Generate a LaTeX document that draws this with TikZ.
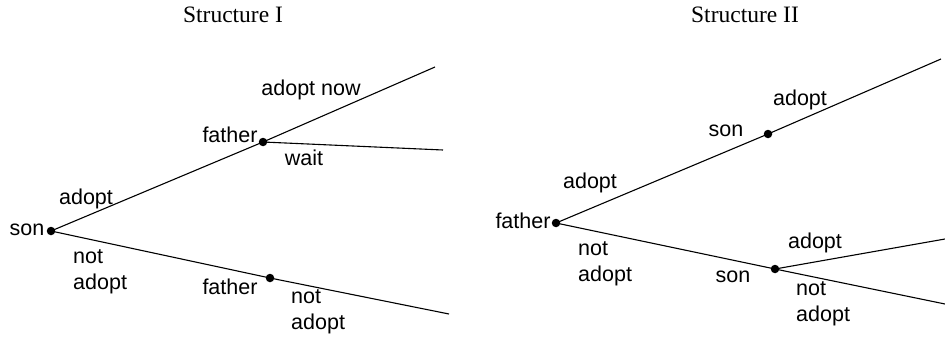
\documentclass[tikz,border=0pt]{standalone}
\usepackage{fontspec}
\setmainfont{Liberation Sans}
\newfontfamily\titlefont{Liberation Serif}
\begin{document}
\begin{tikzpicture}[x=1pt,y=-1pt,
  dot/.style={circle,fill=black,inner sep=0pt,minimum size=8.5pt},
  lbl/.style={font=\fontsize{21.5}{26}\selectfont,inner sep=0pt,align=left},
  ttl/.style={font=\titlefont\fontsize{23.5}{28}\selectfont,inner sep=0pt},
  branch/.style={line width=1.1pt}]
\useasboundingbox (0,0) rectangle (945,337);

% ---- Structure I: son moves first ----
\node[ttl] (t1) at (233,15) {Structure I};
\node[dot] (s) at (51,231) {};
\node[dot] (fa) at (263,142) {};
\node[dot] (fb) at (270,278) {};
\coordinate (e1) at (435,67);
\coordinate (e2) at (443,150);
\coordinate (e3) at (449,314);
\draw[branch] (s.center) -- (fa.center) -- (e1);
\draw[branch] (fa.center) -- (e2);
\draw[branch] (s.center) -- (fb.center) -- (e3);
\node[lbl] (ls) at (27,230) {son};
\node[lbl] (la1) at (86,199) {adopt};
\node[lbl] (lfa) at (230,135) {father};
\node[lbl] (lnow) at (311,90) {adopt now};
\node[lbl] (lw) at (304,158) {wait};
\node[lbl,anchor=west] (ln1) at (73,272) {not\\adopt};
\node[lbl] (lfb) at (230,287) {father};
\node[lbl,anchor=west] (ln2) at (291,312) {not\\adopt};

% ---- Structure II: father moves first ----
\node[ttl] (t2) at (745,15) {Structure II};
\node[dot] (f) at (556,223) {};
\node[dot] (sa) at (768,134) {};
\node[dot] (sb) at (775,269) {};
\coordinate (g1) at (941,59);
\coordinate (g2) at (945,239);
\coordinate (g3) at (945,304);
\draw[branch] (f.center) -- (sa.center) -- (g1);
\draw[branch] (f.center) -- (sb.center) -- (g2);
\draw[branch] (sb.center) -- (g3);
\node[lbl] (lf) at (523,221) {father};
\node[lbl] (lb1) at (590,183) {adopt};
\node[lbl] (lsa) at (726,131) {son};
\node[lbl] (lb2) at (800,100) {adopt};
\node[lbl,anchor=west] (ln3) at (578,264) {not\\adopt};
\node[lbl] (lsb) at (733,277) {son};
\node[lbl] (lb3) at (815,243) {adopt};
\node[lbl,anchor=west] (ln4) at (796,304) {not\\adopt};
\end{tikzpicture}
\end{document}
